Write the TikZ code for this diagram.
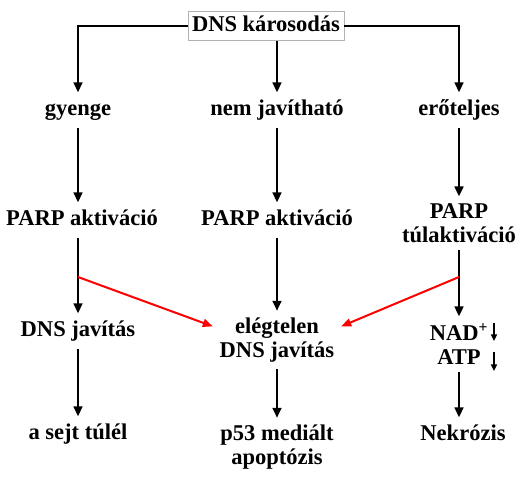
\documentclass[tikz,border=0pt]{standalone}
\usepackage{fontspec}
\setmainfont{Liberation Serif}
\usetikzlibrary{arrows.meta,positioning}

\begin{document}
\begin{tikzpicture}[x=0.75pt,y=-0.75pt,
    lbl/.style={font=\fontsize{16.9}{18}\selectfont\bfseries,inner sep=5pt},
    one/.style={lbl,text height=12pt,text depth=4pt},
    two/.style={lbl,align=center},
    arr/.style={line width=1.9pt,-{Triangle[length=7.5pt,width=6.5pt]}},
    redarr/.style={red,line width=1.5pt,-{Triangle[length=7.5pt,width=6pt]}},
    tiny/.style={line width=1.1pt,-{Triangle[length=5pt,width=4.5pt]}}] {
    \useasboundingbox (0,0) rectangle (518,476);
    \node[one,draw=gray!60,line width=0.6pt,inner sep=3pt] (dns) at (266,26) {DNS károsodás};
    \node[one] (gy) at (78,110) {gyenge};
    \node[one] (nj) at (277,110) {nem javítható};
    \node[one] (eros) at (459,110) {erőteljes};
    \node[one] (parpa) at (82,220) {PARP aktiváció};
    \node[one] (parpb) at (277,220) {PARP aktiváció};
    \node[two] (parpt) at (459,223) {PARP\\túlaktiváció};
    \node[one] (djav) at (78,331) {DNS javítás};
    \node[two] (elegt) at (277,340) {elégtelen\\DNS javítás};
    \node[two] (nad) at (459,344) {NAD\textsuperscript{+}\\ATP};
    \node[one] (sejt) at (78,434) {a sejt túlél};
    \node[two] (p53) at (277,447) {p53 mediált\\apoptózis};
    \node[one] (nekr) at (463,435) {Nekrózis};
    \coordinate (lsplit) at (78,277);
    \coordinate (rsplit) at (459,277);
    \coordinate (nadtop) at (494,323);
    \coordinate (nadbot) at (494,341);
    \coordinate (atptop) at (494,352);
    \coordinate (atpbot) at (494,371);

    \draw[arr] (dns.west) -| (gy.north);
    \draw[arr] (dns.east) -| (eros.north);
    \draw[arr] (dns.south -| nj.north) -- (nj.north);
    \draw[arr] (gy.south) -- (gy.south |- parpa.north);
    \draw[arr] (nj) -- (parpb);
    \draw[arr] (eros) -- (parpt);
    \draw[arr] (gy.south |- parpa.south) -- (djav.north);
    \draw[arr] (parpb) -- (elegt);
    \draw[arr] (parpt) -- (nad);
    \draw[arr] (djav) -- (sejt);
    \draw[arr] (elegt) -- (p53);
    \draw[arr] (nad) -- (nekr.north -| nad.south);
    \draw[redarr] (lsplit) -- (elegt.168);
    \draw[redarr] (rsplit) -- (elegt.12);
    \draw[tiny] (nadtop) -- (nadbot);
    \draw[tiny] (atptop) -- (atpbot);
 }
\end{tikzpicture}
\end{document}
